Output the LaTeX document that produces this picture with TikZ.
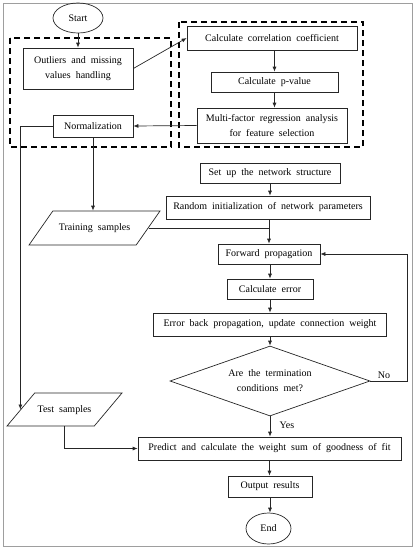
\documentclass[tikz,border=0pt]{standalone}
\usepackage{fontspec}
\setmainfont{Liberation Serif}[WordSpace=2]
\usetikzlibrary{shapes.geometric,arrows.meta}
\begin{document}
\begin{tikzpicture}[x=1pt,y=-1pt,
  every node/.style={font=\fontsize{10}{15}\selectfont, text=black},
  line/.style={draw=black!85, line width=0.7pt},
  arr/.style={line, -{Latex[length=5pt,width=4pt]}},
  box/.style={draw=black!85, line width=0.7pt, rectangle, inner sep=0pt, align=center},
  oval/.style={draw=black!85, line width=0.7pt, ellipse, inner sep=0pt},
  para/.style={draw=black!85, line width=0.7pt, trapezium, trapezium stretches body=true, inner xsep=0pt, text height=7pt, text depth=2pt},
  dbox/.style={draw=black, line width=1.4pt, dash pattern=on 6pt off 4pt},
  frame/.style={draw=black!38, line width=0.9pt}
]
\useasboundingbox (0,0) rectangle (416,550);
\draw[frame] (3,3) rectangle (412,546);

% dashed groups
\draw[dbox] (10,38) rectangle (171,147);
\draw[dbox] (179,22) rectangle (363,147);

% nodes
\node[oval, minimum width=50pt, minimum height=30pt] (start) at (78,18) {Start};
\node[box, minimum width=110pt, minimum height=41pt] (outl) at (78,68.5) {Outliers and missing\\values handling};
\node[box, minimum width=80pt, minimum height=22pt] (norm) at (93,126) {Normalization};
\node[box, minimum width=170pt, minimum height=24pt] (corr) at (272,38) {Calculate correlation coefficient};
\node[box, minimum width=127pt, minimum height=20pt] (pval) at (274.5,82) {Calculate p-value};
\node[box, minimum width=150pt, minimum height=35pt] (multi) at (272,125.5) {Multi-factor regression analysis\\for feature selection};

\node[box, minimum width=140pt, minimum height=20pt] (setup) at (270,173) {Set up the network structure};
\node[box, minimum width=204pt, minimum height=23pt] (rand) at (268,207.5) {Random initialization of network parameters};
\node[para, inner ysep=12.5pt, trapezium left angle=55, trapezium right angle=125, minimum width=131pt] (train) at (94.5,228) {Training samples};
\node[box, minimum width=102pt, minimum height=20pt] (fwd) at (269,254) {Forward propagation};
\node[box, minimum width=86pt, minimum height=20pt] (err) at (270,289) {Calculate error};
\node[box, minimum width=233pt, minimum height=23pt] (back) at (270,324.5) {Error back propagation, update connection weight};
\node[diamond, draw=black!85, line width=0.7pt, inner sep=0pt, aspect=2.86, minimum width=200pt, minimum height=70pt, align=center] (cond) at (270,381) {Are the termination\\conditions met?};
\node[para, inner ysep=12pt, trapezium left angle=50, trapezium right angle=130, minimum width=115pt] (test) at (64.5,409.5) {Test samples};
\node[box, minimum width=263pt, minimum height=23pt] (pred) at (269.5,448.5) {Predict and calculate the weight sum of goodness of fit};
\node[box, minimum width=84pt, minimum height=21pt] (out) at (270,486.5) {Output results};
\node[oval, minimum width=45pt, minimum height=31pt] (end) at (268.5,528.5) {End};

\coordinate (loopx) at (407,0);

% connectors
\draw[arr] (start) -- (outl);
\draw[arr] (outl.east) -- (corr.west);
\draw[arr] (pval.north |- corr.south) -- (pval.north);
\draw[arr] (pval.south) -- (pval.south |- multi.north);
\draw[arr] (multi.west) -- (norm.east);
\draw[arr] (norm.west) -| (test.west);
\draw[arr] (norm.south) -- (norm.south |- train.north);
\draw[arr] (setup.south) -- (setup.south |- rand.north);
\draw[arr] (fwd.north |- rand.south) -- (fwd.north);
\draw[line] (train.east) -- (train.east -| fwd.north);
\draw[arr] (err.north |- fwd.south) -- (err.north);
\draw[arr] (err.south) -- (err.south |- back.north);
\draw[arr] (back.south) -- (back.south |- cond.north);
\draw[arr] (cond.south) -- node[right=6pt, pos=0.45] (yes) {Yes} (cond.south |- pred.north);
\draw[arr] (cond.east) -- (loopx |- cond.east) -- (loopx |- fwd.east) -- (fwd.east);
\node[anchor=south west] (no) at ([xshift=4pt,yshift=-1pt]cond.east) {No};
\draw[arr] (test.south) |- (pred.west);
\draw[arr] (pred.south) -- (pred.south |- out.north);
\draw[arr] (out.south) -- (out.south |- end.north);
\end{tikzpicture}
\end{document}
